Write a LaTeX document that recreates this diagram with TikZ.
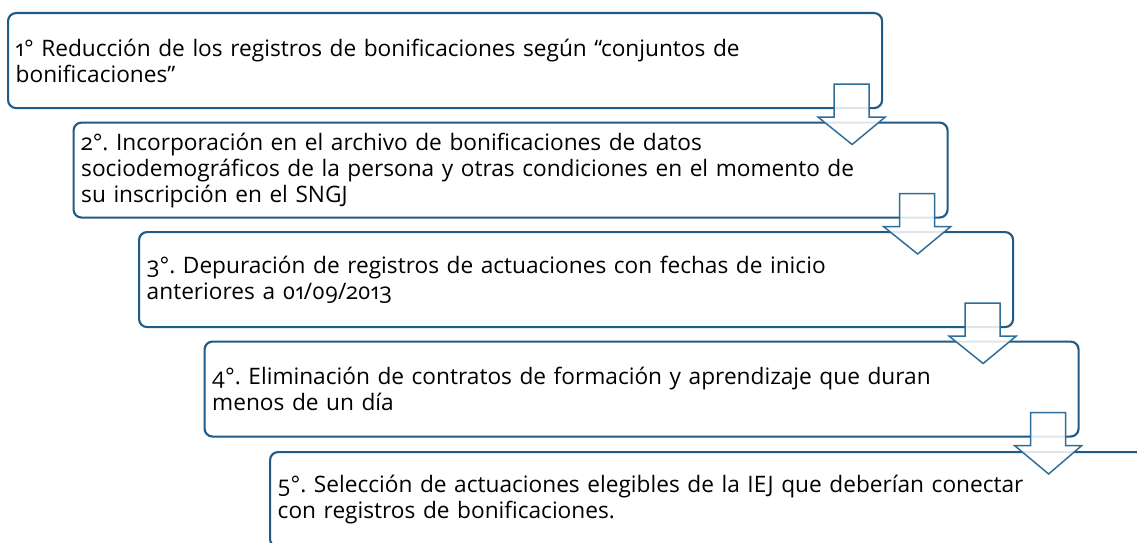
\documentclass[tikz,border=0pt]{standalone}
\usepackage{fontspec}
\setmainfont[Numbers=OldStyle]{Open Sans}
\usetikzlibrary{calc}
\definecolor{Navy}{HTML}{1F5B86}
\definecolor{Steel}{HTML}{2F6C97}
\frenchspacing

\begin{document}
\begin{tikzpicture}[x=0.75pt,y=-0.75pt,
  stepbox/.style={draw=Navy,line width=1.6pt,rounded corners=6pt,fill=white,anchor=north west,minimum width=655.5pt,minimum height=71.25pt,text width=644pt,inner xsep=5.5pt,align=left,font=\fontsize{17}{19.5}\selectfont},
  downarr/.style={draw=Steel,line width=1.1pt,fill=white,fill opacity=0.85,line join=miter}
]
\useasboundingbox (0,0) rectangle (1137,542);
\node[stepbox] (s1) at (7,12) {1° Reducción de los registros de bonificaciones según “conjuntos de\\bonificaciones”};
\node[stepbox] (s2) at (72.5,121.5) {2°. Incorporación en el archivo de bonificaciones de datos\\sociodemográficos de la persona y otras condiciones en el momento de\\su inscripción en el SNGJ};
\node[stepbox] (s3) at (138,231) {3°. Depuración de registros de actuaciones con fechas de inicio\\anteriores a 01/09/2013};
\node[stepbox] (s4) at (203.5,340.5) {4°. Eliminación de contratos de formación y aprendizaje que duran\\menos de un día};
\node[stepbox] (s5) at (269,451) {5°. Selección de actuaciones elegibles de la IEJ que deberían conectar\\con registros de bonificaciones.};
% block arrows between steps
\foreach \i/\j in {1/2,2/3,3/4,4/5}{
  \draw[downarr] ($(s\i.south east)+(-49,-25)$) -- ($(s\i.south east)+(-14,-25)$)
    -- ($(s\i.south east)+(-14,8)$) -- ($(s\i.south east)+(2,8)$)
    -- ($(s\j.north east)+(-96.5,23)$)
    -- ($(s\i.south east)+(-65,8)$) -- ($(s\i.south east)+(-49,8)$) -- cycle;
}
\end{tikzpicture}
\end{document}
